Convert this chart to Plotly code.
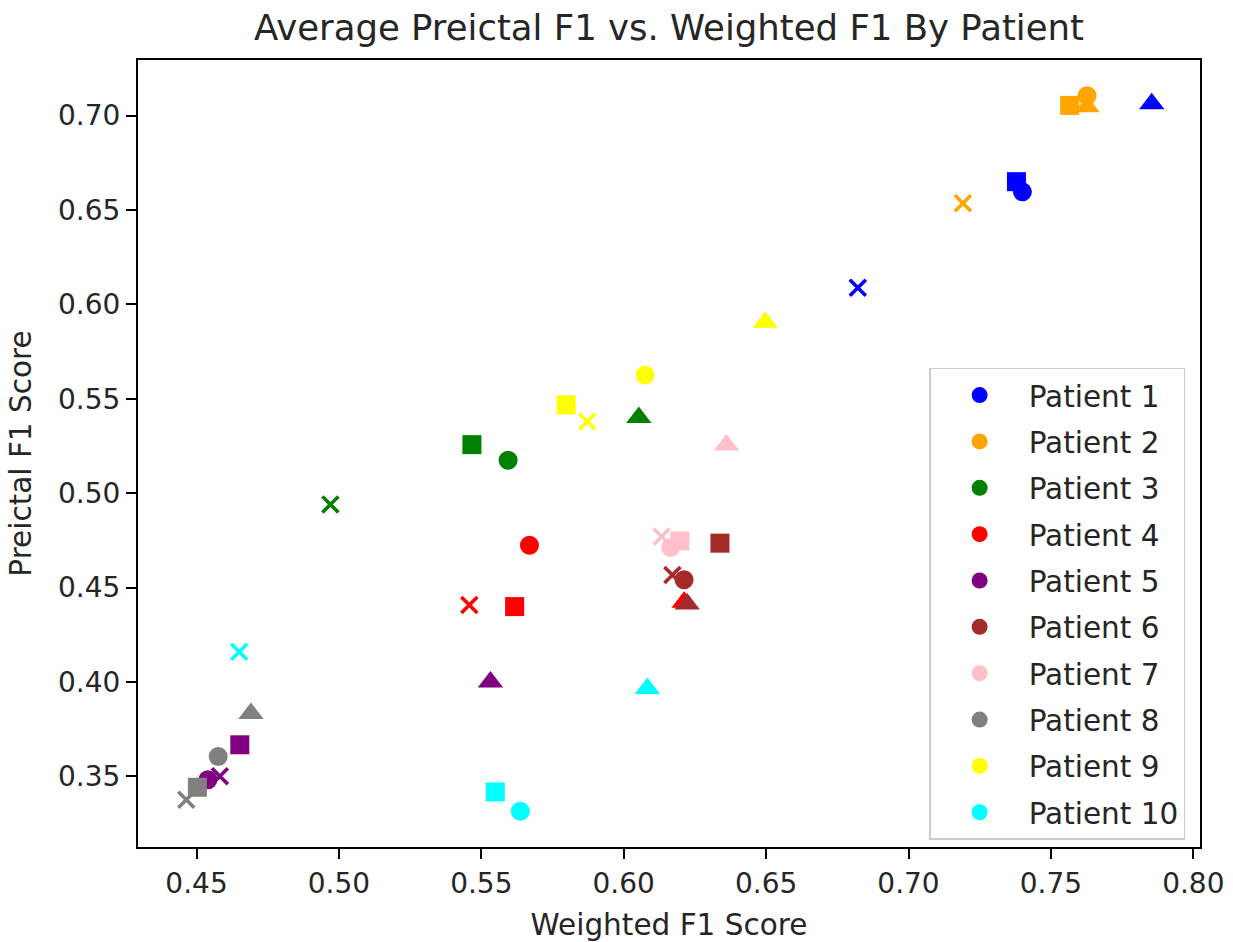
import plotly.graph_objects as go

# Patients and their plot colours
patients = [f"Patient {i}" for i in range(1, 11)]
colors = ["blue", "orange", "green", "red", "purple",
          "brown", "pink", "gray", "yellow", "cyan"]

# Weighted F1 (x) and preictal F1 (y) for each run, grouped by marker
weighted_circle = [0.7400, 0.7627, 0.5594, 0.5669, 0.4540, 0.6212, 0.6165, 0.4576, 0.6075, 0.5637]
preictal_circle = [0.6596, 0.7105, 0.5174, 0.4724, 0.3482, 0.4541, 0.4712, 0.3605, 0.5626, 0.3315]

weighted_square = [0.7379, 0.7566, 0.5467, 0.5617, 0.4652, 0.6338, 0.6197, 0.4503, 0.5798, 0.5549]
preictal_square = [0.6650, 0.7054, 0.5257, 0.4399, 0.3667, 0.4735, 0.4747, 0.3442, 0.5468, 0.3417]

weighted_triangle = [0.7854, 0.7627, 0.6053, 0.6212, 0.5532, 0.6223, 0.6361, 0.4691, 0.6497, 0.6083]
preictal_triangle = [0.7063, 0.7047, 0.5401, 0.4422, 0.4000, 0.4413, 0.5255, 0.3833, 0.5905, 0.3965]

weighted_x = [0.6822, 0.7191, 0.4970, 0.5458, 0.4582, 0.6171, 0.6133, 0.4464, 0.5872, 0.4650]
preictal_x = [0.6088, 0.6536, 0.4940, 0.4408, 0.3500, 0.4566, 0.4770, 0.3376, 0.5380, 0.4160]

x_ticks = [0.45, 0.50, 0.55, 0.60, 0.65, 0.70, 0.75, 0.80]
y_ticks = [0.35, 0.40, 0.45, 0.50, 0.55, 0.60, 0.65, 0.70]

FONT = "DejaVu Sans"
TEXT = "#262626"

groups = [
    ("circle", weighted_circle, preictal_circle, 19, 0),
    ("square", weighted_square, preictal_square, 19, 0),
    ("triangle-up", weighted_triangle, preictal_triangle, 22, 0),
    ("x-thin", weighted_x, preictal_x, 16, 3.6),
]

fig = go.Figure()
for i, (name, color) in enumerate(zip(patients, colors)):
    for j, (symbol, xs, ys, size, lw) in enumerate(groups):
        fig.add_trace(go.Scatter(
            x=[xs[i]], y=[ys[i]],
            mode="markers",
            name=name,
            legendgroup=name,
            showlegend=(j == 0),
            marker=dict(symbol=symbol, size=size, color=color,
                        line=dict(width=lw, color=color)),
            hoverinfo="skip",
        ))


def padded(*series):
    vals = [v for s in series for v in s]
    lo, hi = min(vals), max(vals)
    pad = (hi - lo) * 0.05
    return [lo - pad, hi + pad]


x_range = padded(weighted_circle, weighted_square, weighted_triangle, weighted_x)
y_range = padded(preictal_circle, preictal_square, preictal_triangle, preictal_x)

axis_common = dict(
    showline=True, mirror=True, linecolor="black", linewidth=2.2,
    ticks="outside", ticklen=10, tickwidth=2.2, tickcolor="black",
    showgrid=False, zeroline=False,
    tickfont=dict(family=FONT, size=28, color=TEXT),
    tickformat=".2f",
)

fig.update_layout(
    width=1233, height=942,
    margin=dict(l=138, r=33, t=60, b=95),
    paper_bgcolor="white", plot_bgcolor="white",
    font=dict(family=FONT, color=TEXT),
    title=dict(
        text="Average Preictal F1 vs. Weighted F1 By Patient",
        x=0.5, xref="paper", xanchor="center",
        y=1 - 28 / 942, yref="container", yanchor="middle",
        font=dict(family=FONT, size=35.5, color=TEXT),
    ),
    xaxis=dict(
        range=x_range, tickvals=x_ticks,
        title=dict(text="Weighted F1 Score", standoff=16,
                   font=dict(family=FONT, size=29.5, color=TEXT)),
        automargin=False,
        **axis_common,
    ),
    yaxis=dict(
        range=y_range, tickvals=y_ticks,
        title=dict(text="Preictal F1 Score", standoff=18,
                   font=dict(family=FONT, size=29.5, color=TEXT)),
        automargin=False,
        **axis_common,
    ),
    legend=dict(
        x=0.986, xanchor="right", y=0.009, yanchor="bottom",
        bgcolor="white", bordercolor="#cccccc", borderwidth=1.5,
        font=dict(family=FONT, size=29.5, color=TEXT),
        traceorder="grouped", tracegroupgap=5,
        itemsizing="trace", itemwidth=88,
    ),
    showlegend=True,
)

fig.write_html("out.html")
